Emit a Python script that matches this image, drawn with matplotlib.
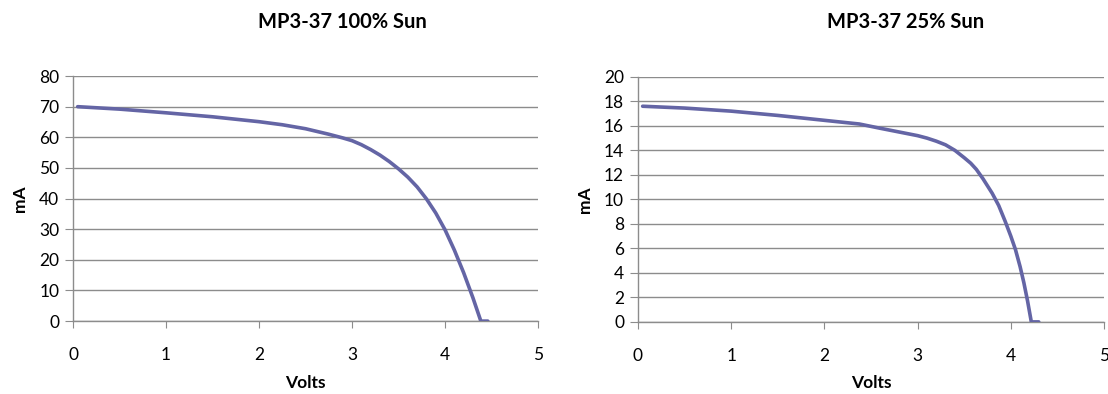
import matplotlib
matplotlib.use("Agg")
import matplotlib.pyplot as plt

# 100% sun
volts_100 = [0.05, 0.5, 1.0, 1.5, 2.0, 2.25, 2.5, 2.75, 2.9, 3.0, 3.1, 3.2, 3.3, 3.4, 3.5, 3.6, 3.7, 3.8, 3.9, 4.0,
             4.1, 4.2, 4.3, 4.385, 4.46]
ma_100 = [70.0, 69.2, 68.0, 66.7, 65.1, 64.1, 62.8, 61.0, 59.8, 58.9, 57.6, 56.0, 54.2, 52.1, 49.7, 47.0, 43.8, 39.9, 35.3, 29.8,
          23.2, 15.8, 7.6, 0.0, 0.0]

# 25% sun
volts_25 = [0.05, 0.5, 1.0, 1.5, 2.0, 2.375, 2.6, 2.8, 3.0, 3.1, 3.2, 3.3, 3.4, 3.5, 3.57, 3.63, 3.7, 3.8,
            3.87, 3.94, 4.0, 4.05, 4.1, 4.14, 4.18, 4.22, 4.30]
ma_25 = [17.6, 17.45, 17.2, 16.85, 16.45, 16.15, 15.8, 15.5, 15.2, 15.0, 14.75, 14.45, 14.0, 13.4, 12.95, 12.45, 11.7, 10.5,
         9.5, 8.2, 7.0, 5.9, 4.5, 3.2, 1.7, 0.0, 0.0]

titles = ["MP3-37 100% Sun", "MP3-37 25% Sun"]
title_x = [0.309, 0.817]
y_max = [80, 20]
y_step = [10, 2]

plt.rcParams['font.family'] = ['Lato', 'DejaVu Sans']
line_color = '#6465A5'
grid_color = '#8c8c8c'

fig = plt.figure(figsize=(11.08, 3.94), dpi=100)
ax1 = fig.add_axes([0.0659, 0.185, 0.4197, 0.622])
ax2 = fig.add_axes([0.5758, 0.183, 0.4206, 0.622])

data = [(volts_100, ma_100), (volts_25, ma_25)]
for i, ax in enumerate([ax1, ax2]):
    v, ma = data[i]
    ax.plot(v, ma, color=line_color, linewidth=2.6, solid_capstyle='round', solid_joinstyle='round', zorder=3)
    ax.set_xlim(0, 5)
    ax.set_ylim(0, y_max[i])
    ax.set_xticks(range(0, 6))
    ax.set_yticks(range(0, y_max[i] + 1, y_step[i]))
    ax.yaxis.grid(True, color=grid_color, linewidth=1.0)
    ax.set_axisbelow(True)
    for s in ['top', 'right']:
        ax.spines[s].set_visible(False)
    for s in ['left', 'bottom']:
        ax.spines[s].set_color(grid_color)
        ax.spines[s].set_linewidth(1.0)
    ax.tick_params(axis='x', direction='out', length=5, color=grid_color, labelsize=12.5, pad=14)
    ax.tick_params(axis='y', direction='out', length=6, color=grid_color, labelsize=12.5, pad=4)
    ax.set_xlabel("Volts", fontsize=12.5, fontweight='bold', labelpad=8)
    ax.set_ylabel("mA", fontsize=12.5, fontweight='bold', labelpad=8)
    fig.text(title_x[i], 0.944, titles[i], ha='center', va='center', fontsize=14.5, fontweight='bold')

fig.savefig("out.png", dpi=100)
